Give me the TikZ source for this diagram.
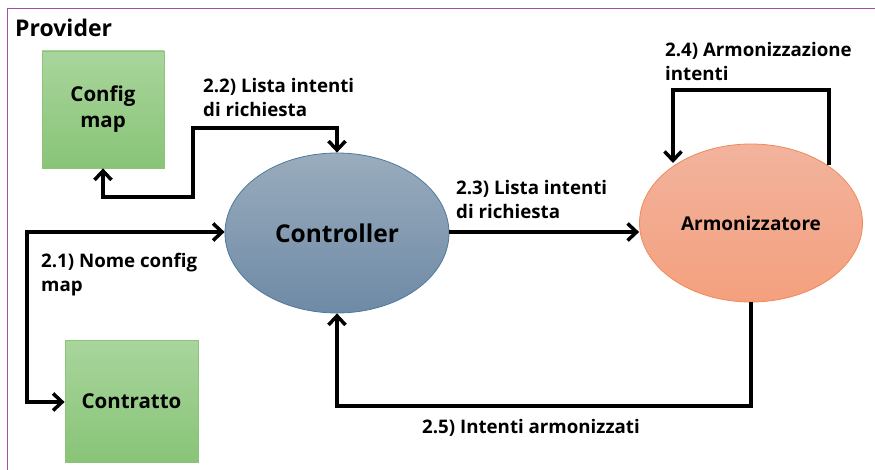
\documentclass[tikz,border=0pt]{standalone}
\usepackage{fontspec}
\setmainfont{Open Sans}[Ligatures=NoCommon]
\usetikzlibrary{arrows.meta,shapes.geometric}
\definecolor{frameline}{HTML}{A64CA6}
\definecolor{greentop}{HTML}{A9D59C}
\definecolor{greenbot}{HTML}{88C477}
\definecolor{greenedge}{HTML}{8CC57A}
\definecolor{bluetop}{HTML}{9AACBD}
\definecolor{bluebot}{HTML}{6E8AA6}
\definecolor{blueedge}{HTML}{4E7A9C}
\definecolor{salmontop}{HTML}{F2B39D}
\definecolor{salmonbot}{HTML}{F4A07E}
\definecolor{salmonedge}{HTML}{F08A58}
\tikzset{
  box/.style={draw=greenedge, line width=0.8pt, top color=greentop, bottom color=greenbot,
    minimum width=#1, align=center, font=\bfseries\fontsize{20.5}{26}\selectfont},
  ctrl/.style={ellipse, draw=blueedge, line width=0.8pt, top color=bluetop, bottom color=bluebot,
    minimum width=224pt, minimum height=160pt, inner sep=0pt, font=\bfseries\fontsize{24.5}{26}\selectfont},
  harm/.style={ellipse, draw=salmonedge, line width=0.8pt, top color=salmontop, bottom color=salmonbot,
    minimum width=223pt, minimum height=158pt, inner sep=0pt, font=\bfseries\fontsize{19}{20}\selectfont},
  tip/.tip={Straight Barb[length=9pt,width=17pt,line width=3.5pt]},
  flow/.style={line width=3.5pt, line join=miter, -tip},
  % labels are placed by the baseline of their last line
  lbl/.style={align=left, anchor=base west, inner sep=0pt, font=\bfseries\fontsize{18.7}{24}\selectfont}
}
\begin{document}
\begin{tikzpicture}[x=1pt,y=-1pt]
  \useasboundingbox (0,0) rectangle (875,470);
  \fill[white] (0,0) rectangle (875,470);
  % container frame, open to the right and bottom
  \draw[frameline, line width=1pt] (7,480) -- (7,9) -- (885,9);
  \node[anchor=base west, inner sep=0pt, font=\bfseries\fontsize{23}{24}\selectfont] (prov) at (15,37) {Provider};

  % components
  \node[box=122pt, minimum height=117pt] (cfg) at (103,109.5) {Config\\map};
  \node[box=133pt, minimum height=122pt] (con) at (131.5,401) {Contratto};
  \node[ctrl] (ctl) at (337,233) {Controller};
  \node[harm] (arm) at (751,223) {Armonizzatore};

  % bend points of the orthogonal connectors
  \coordinate (c22a) at (337,128);
  \coordinate (c22b) at (193,128);
  \coordinate (c22c) at (193,197);
  \coordinate (c22d) at (103,197);
  \coordinate (c21a) at (27,232);
  \coordinate (c21b) at (27,402);
  \coordinate (c24a) at (829,90);
  \coordinate (c24b) at (673,90);
  \coordinate (c25a) at (751,406);
  \coordinate (c25b) at (337,406);

  % 2.1 config map name: controller <-> contract
  \draw[flow, tip-tip] (con.west |- c21b) -- (c21b) -- (c21a) -- (ctl.west |- c21a);
  % 2.2 request intents: controller <-> config map
  \draw[flow, tip-tip] (cfg.south) -- (c22d) -- (c22c) -- (c22b) -- (c22a) -- (ctl.north);
  % 2.3 request intents: controller -> harmonizer
  \draw[flow] (ctl.east |- 0,232) -- (arm.west |- 0,232);
  % 2.4 harmonization loop
  \draw[flow] (829,165) -- (c24a) -- (c24b) -- (673,163);
  % 2.5 harmonized intents back to the controller
  \draw[flow] (arm.south) -- (c25a) -- (c25b) -- (ctl.south);

  % connector labels
  \node[lbl] (l22) at (203,117) {2.2) Lista intenti\\di richiesta};
  \node[lbl] (l21) at (41,291) {2.1) Nome config\\map};
  \node[lbl] (l23) at (456,219) {2.3) Lista intenti\\di richiesta};
  \node[lbl] (l24) at (665,81) {2.4) Armonizzazione\\intenti};
  \node[lbl] (l25) at (422,433) {2.5) Intenti armonizzati};
\end{tikzpicture}
\end{document}
